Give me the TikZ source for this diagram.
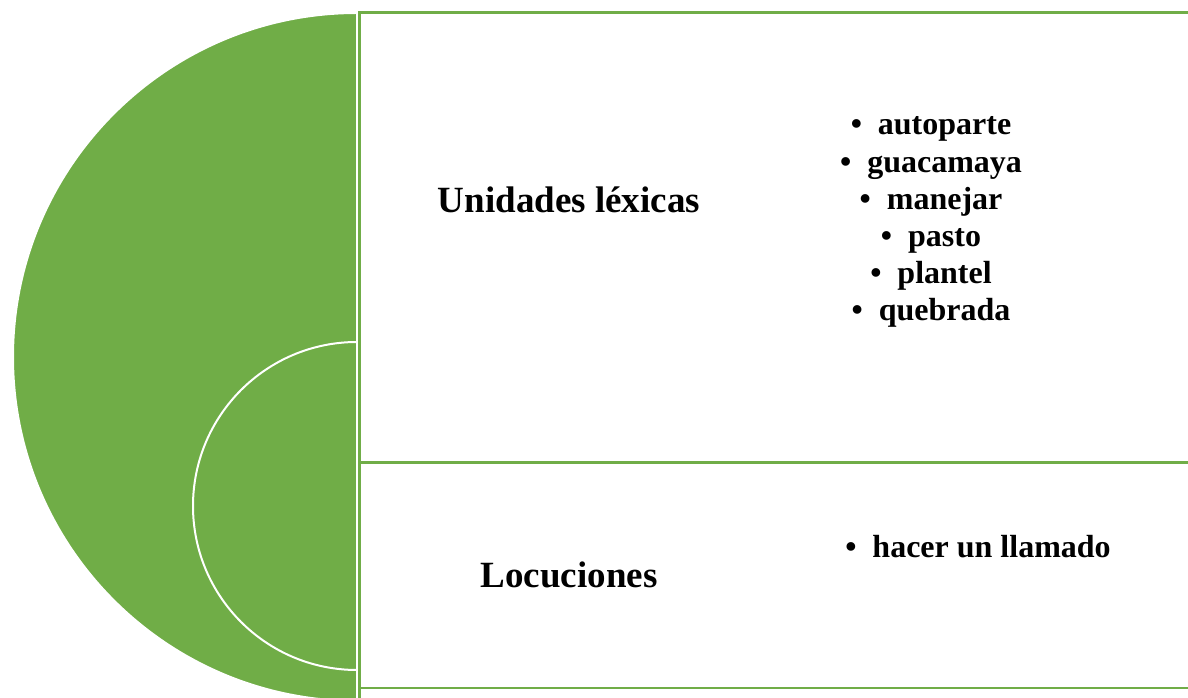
\documentclass[tikz,border=0pt]{standalone}
\usepackage{fontspec}
\setmainfont{Liberation Serif}
\usetikzlibrary{positioning}

\definecolor{leafgreen}{RGB}{112,173,71}

\begin{document}
\begin{tikzpicture}[x=1pt,y=1pt,
    heading/.style={font=\fontsize{37}{44}\selectfont\bfseries, inner sep=0pt, anchor=base},
    item/.style={font=\fontsize{32}{37}\selectfont\bfseries, inner sep=0pt, anchor=base}]
  \useasboundingbox (0,0) rectangle (1188,698);
  % Half discs
  \fill[leafgreen, draw=white, line width=2pt] (357,685) arc (90:270:344) -- cycle;
  \fill[leafgreen, draw=white, line width=2pt] (357,356) arc (90:270:164) -- cycle;
  % Boxes
  \draw[leafgreen, line width=2.6pt] (1200,685.5) -- (359.5,685.5) -- (359.5,0);
  \draw[leafgreen, line width=3pt] (359.5,235) -- (1200,235);
  \draw[leafgreen, line width=2.6pt] (359.5,10) -- (1200,10);
  % Headings
  \node[heading] (lex) at (569,485) {Unidades léxicas};
  \node[heading] (loc) at (569,110) {Locuciones};
  % Examples
  \foreach \w [count=\i] in {autoparte, guacamaya, manejar, pasto, plantel, quebrada}
    \node[item] (lex\i) at (931,{563-37.1*(\i-1)}) {•\hspace{0.5em}\w};
  \node[item] (loc1) at (978,140) {•\hspace{0.5em}hacer un llamado};
\end{tikzpicture}
\end{document}
